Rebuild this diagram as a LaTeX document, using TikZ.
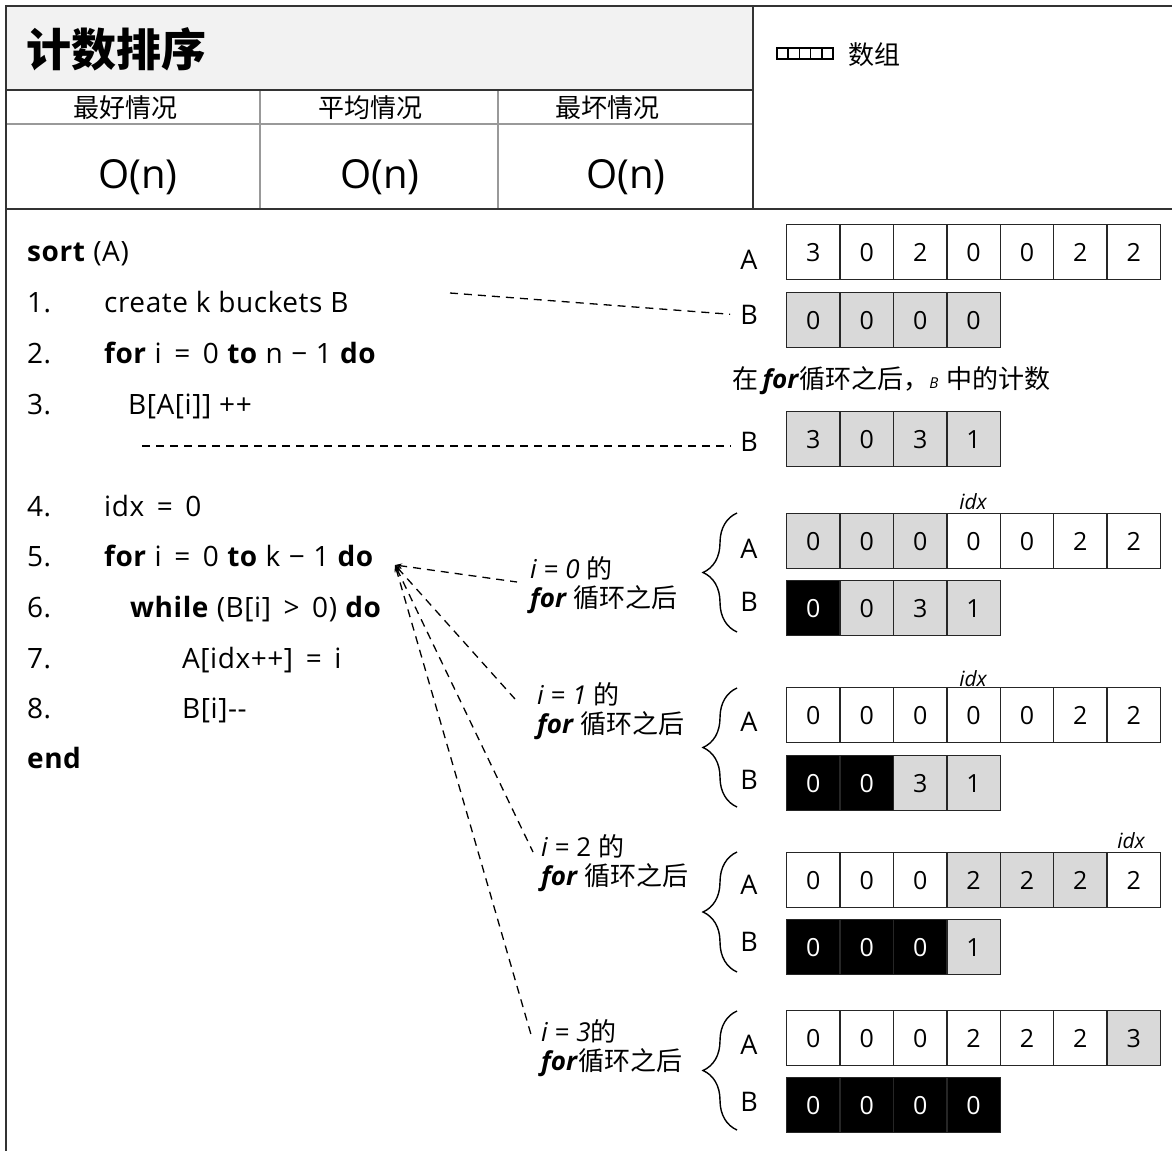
\documentclass[tikz,border=0pt]{standalone}
\usepackage{fontspec}
\setmainfont{Open Sans}
\newfontfamily\cjk{Noto Sans CJK SC}
\newfontfamily\codefont[LetterSpace=2]{Open Sans}
\usetikzlibrary{decorations.pathreplacing,arrows.meta}

% cell colours: f = fill, t = text
\colorlet{fw}{white}   \colorlet{tw}{black}
\colorlet{fg}{black!15}\colorlet{tg}{black}
\colorlet{fk}{black}   \colorlet{tk}{white}

% wide operators in the code lines
\newcommand{\oeq}{\hspace{.45em}=\hspace{.45em}}
\newcommand{\omi}{\hspace{.3em}−\hspace{.3em}}
\newcommand{\ogt}{\hspace{.45em}>\hspace{.45em}}

\tikzset{
  cell/.style={draw=black!85, line width=1.3pt, minimum width=53.4pt,
    minimum height=55pt, inner sep=0pt, anchor=north west,
    font=\fontsize{25}{25}\selectfont},
  lbl/.style={inner sep=0pt, font=\fontsize{27}{27}\selectfont},
  code/.style={anchor=base west, inner sep=0pt, font=\codefont\fontsize{28}{28}\selectfont},
  dashline/.style={dash pattern=on 8pt off 6pt, line width=1.3pt},
  brc/.style={decorate, decoration={brace, amplitude=34pt}, line width=1.4pt},
  steplab/.style={anchor=west, align=left, inner sep=0pt,
    font=\fontsize{26}{29}\selectfont},
  idxlab/.style={inner sep=0pt, font=\fontsize{21}{21}\selectfont\itshape},
  frame/.style={draw=black!80, line width=2.5pt},
  grid/.style={draw=black!40, line width=2pt},
}

% one array row: name, left x, top y, list of value/colour
\newcommand{\cells}[4]{%
  \foreach \v/\s [count=\i] in {#4}
    \node[cell, fill=f\s, text=t\s] (#1-\i) at ({#2+53.4*(\i-1)},#3) {\v};
}

\begin{document}
\begin{tikzpicture}[x=1pt,y=-1pt]
\useasboundingbox (0,0) rectangle (1172,1151);

% header table
\fill[black!5] (6,6) rectangle (753,90);
\draw[grid] (6,124) -- (753,124);
\draw[grid] (260,90) -- (260,209);
\draw[grid] (498,90) -- (498,209);
\draw[frame] (6,90) -- (753,90);
\draw[frame] (753,6) -- (753,209);
\draw[frame] (6,209) -- (1172,209);
\draw[frame] (1172,6) -- (6,6) -- (6,1151);

\node[anchor=west, inner sep=0pt, font=\cjk\bfseries\fontsize{45}{45}\selectfont]
  (title) at (26,49) {计数排序};
\node[font=\cjk\fontsize{26}{26}\selectfont] (best) at (125,108) {最好情况};
\node[font=\cjk\fontsize{26}{26}\selectfont] (avg) at (370,108) {平均情况};
\node[font=\cjk\fontsize{26}{26}\selectfont] (worst) at (607,108) {最坏情况};
\node[font=\fontsize{40}{40}\selectfont] (obest) at (138,177) {O(n)};
\node[font=\fontsize{40}{40}\selectfont] (oavg) at (380,177) {O(n)};
\node[font=\fontsize{40}{40}\selectfont] (oworst) at (626,177) {O(n)};

% legend
\foreach \k in {0,...,4}
  \draw[line width=1.6pt] ({777+11.2*\k},48) rectangle ++(11.2,11);
\node[anchor=west, inner sep=0pt, font=\cjk\fontsize{26}{26}\selectfont]
  (legend) at (848,55) {数组};

% pseudo code
\node[code] (sortln) at (27,261) {\textbf{sort} (A)};
\foreach \n/\y in {1/312,2/363,3/414,4/516,5/566,6/617,7/668,8/718}
  \node[code] (n\n) at (27,\y) {\n.};
\node[code] (t1) at (104,312) {create k buckets B};
\node[code] (t2) at (104,363) {\textbf{for} i\oeq 0 \textbf{to} n\omi 1 \textbf{do}};
\node[code] (t3) at (128,414) {B[A[i]] ++};
\node[code] (t4) at (104,516) {idx\oeq 0};
\node[code] (t5) at (104,566) {\textbf{for} i\oeq 0 \textbf{to} k\omi 1 \textbf{do}};
\node[code] (t6) at (130,617) {\textbf{while} (B[i]\ogt 0) \textbf{do}};
\node[code] (t7) at (182,668) {A[idx++]\oeq i};
\node[code] (t8) at (182,718) {B[i]-{}-};
\node[code] (endln) at (27,768) {\textbf{end}};

% arrays before and after counting
\node[lbl] (lA0) at (749,260) {A};
\node[lbl] (lB0) at (749,315) {B};
\node[lbl] (lB1) at (749,442) {B};
\cells{initA}{786}{224}{3/w,0/w,2/w,0/w,0/w,2/w,2/w}
\cells{initB}{786}{292}{0/g,0/g,0/g,0/g}
\cells{cntB}{786}{411}{3/g,0/g,3/g,1/g}
\node[anchor=west, inner sep=0pt, font=\fontsize{26}{26}\selectfont] (cntlab) at (732,381)
  {{\cjk 在}\,\textbf{\textit{for}}{\cjk 循环之后，}{\fontsize{15}{15}\selectfont\textit{B}}\hspace{.3em}{\cjk 中的计数}};

\coordinate (d1) at (450,293);
\coordinate (d2) at (142,446);
\draw[dashline, shorten >=10pt] (d1) -- (lB0.west);
\draw[dashline, shorten >=10pt] (d2) -- (d2 -| lB1.west);

% steps of the second loop
\cells{stepA0}{786}{513}{0/g,0/g,0/g,0/w,0/w,2/w,2/w}
\cells{stepB0}{786}{580}{0/k,0/g,3/g,1/g}
\cells{stepA1}{786}{687}{0/w,0/w,0/w,0/w,0/w,2/w,2/w}
\cells{stepB1}{786}{755}{0/k,0/k,3/g,1/g}
\cells{stepA2}{786}{852}{0/w,0/w,0/w,2/g,2/g,2/g,2/w}
\cells{stepB2}{786}{919}{0/k,0/k,0/k,1/g}
\cells{stepA3}{786}{1010}{0/w,0/w,0/w,2/w,2/w,2/w,3/g}
\cells{stepB3}{786}{1077}{0/k,0/k,0/k,0/k}

\node[lbl] (lsA0) at (749,549) {A};
\node[lbl] (lsB0) at (749,602) {B};
\node[lbl] (lsA1) at (749,722) {A};
\node[lbl] (lsB1) at (749,780) {B};
\node[lbl] (lsA2) at (749,885) {A};
\node[lbl] (lsB2) at (749,942) {B};
\node[lbl] (lsA3) at (749,1045) {A};
\node[lbl] (lsB3) at (749,1102) {B};

\node[idxlab] (idx0) at (973,502) {idx};
\node[idxlab] (idx1) at (973,679) {idx};
\node[idxlab] (idx2) at (1131,841) {idx};

\draw[brc] (737,632) -- (737,513);
\draw[brc] (737,807) -- (737,688);
\draw[brc] (737,972) -- (737,852);
\draw[brc] (737,1130) -- (737,1011);

\node[steplab] (lab0) at (530,585) {\textit{i} = \textit{0} {\cjk 的}\\\textbf{\textit{for}} {\cjk 循环之后}};
\node[steplab] (lab1) at (537,711) {\textit{i} = \textit{1} {\cjk 的}\\\textbf{\textit{for}} {\cjk 循环之后}};
\node[steplab] (lab2) at (541,863) {\textit{i} = 2 {\cjk 的}\\\textbf{\textit{for}} {\cjk 循环之后}};
\node[steplab] (lab3) at (541,1048) {\textit{i} = \textit{3}{\cjk 的}\\\textbf{\textit{for}}{\cjk 循环之后}};

\coordinate (tip) at (395,565);
\coordinate (e0) at (517,582);
\coordinate (e1) at (515,699);
\coordinate (e2) at (533,852);
\coordinate (e3) at (532,1038);
\foreach \e in {e0,e1,e2,e3}
  \draw[dashline, {Stealth[length=7pt,width=5pt]}-] (tip) -- (\e);

\end{tikzpicture}
\end{document}
